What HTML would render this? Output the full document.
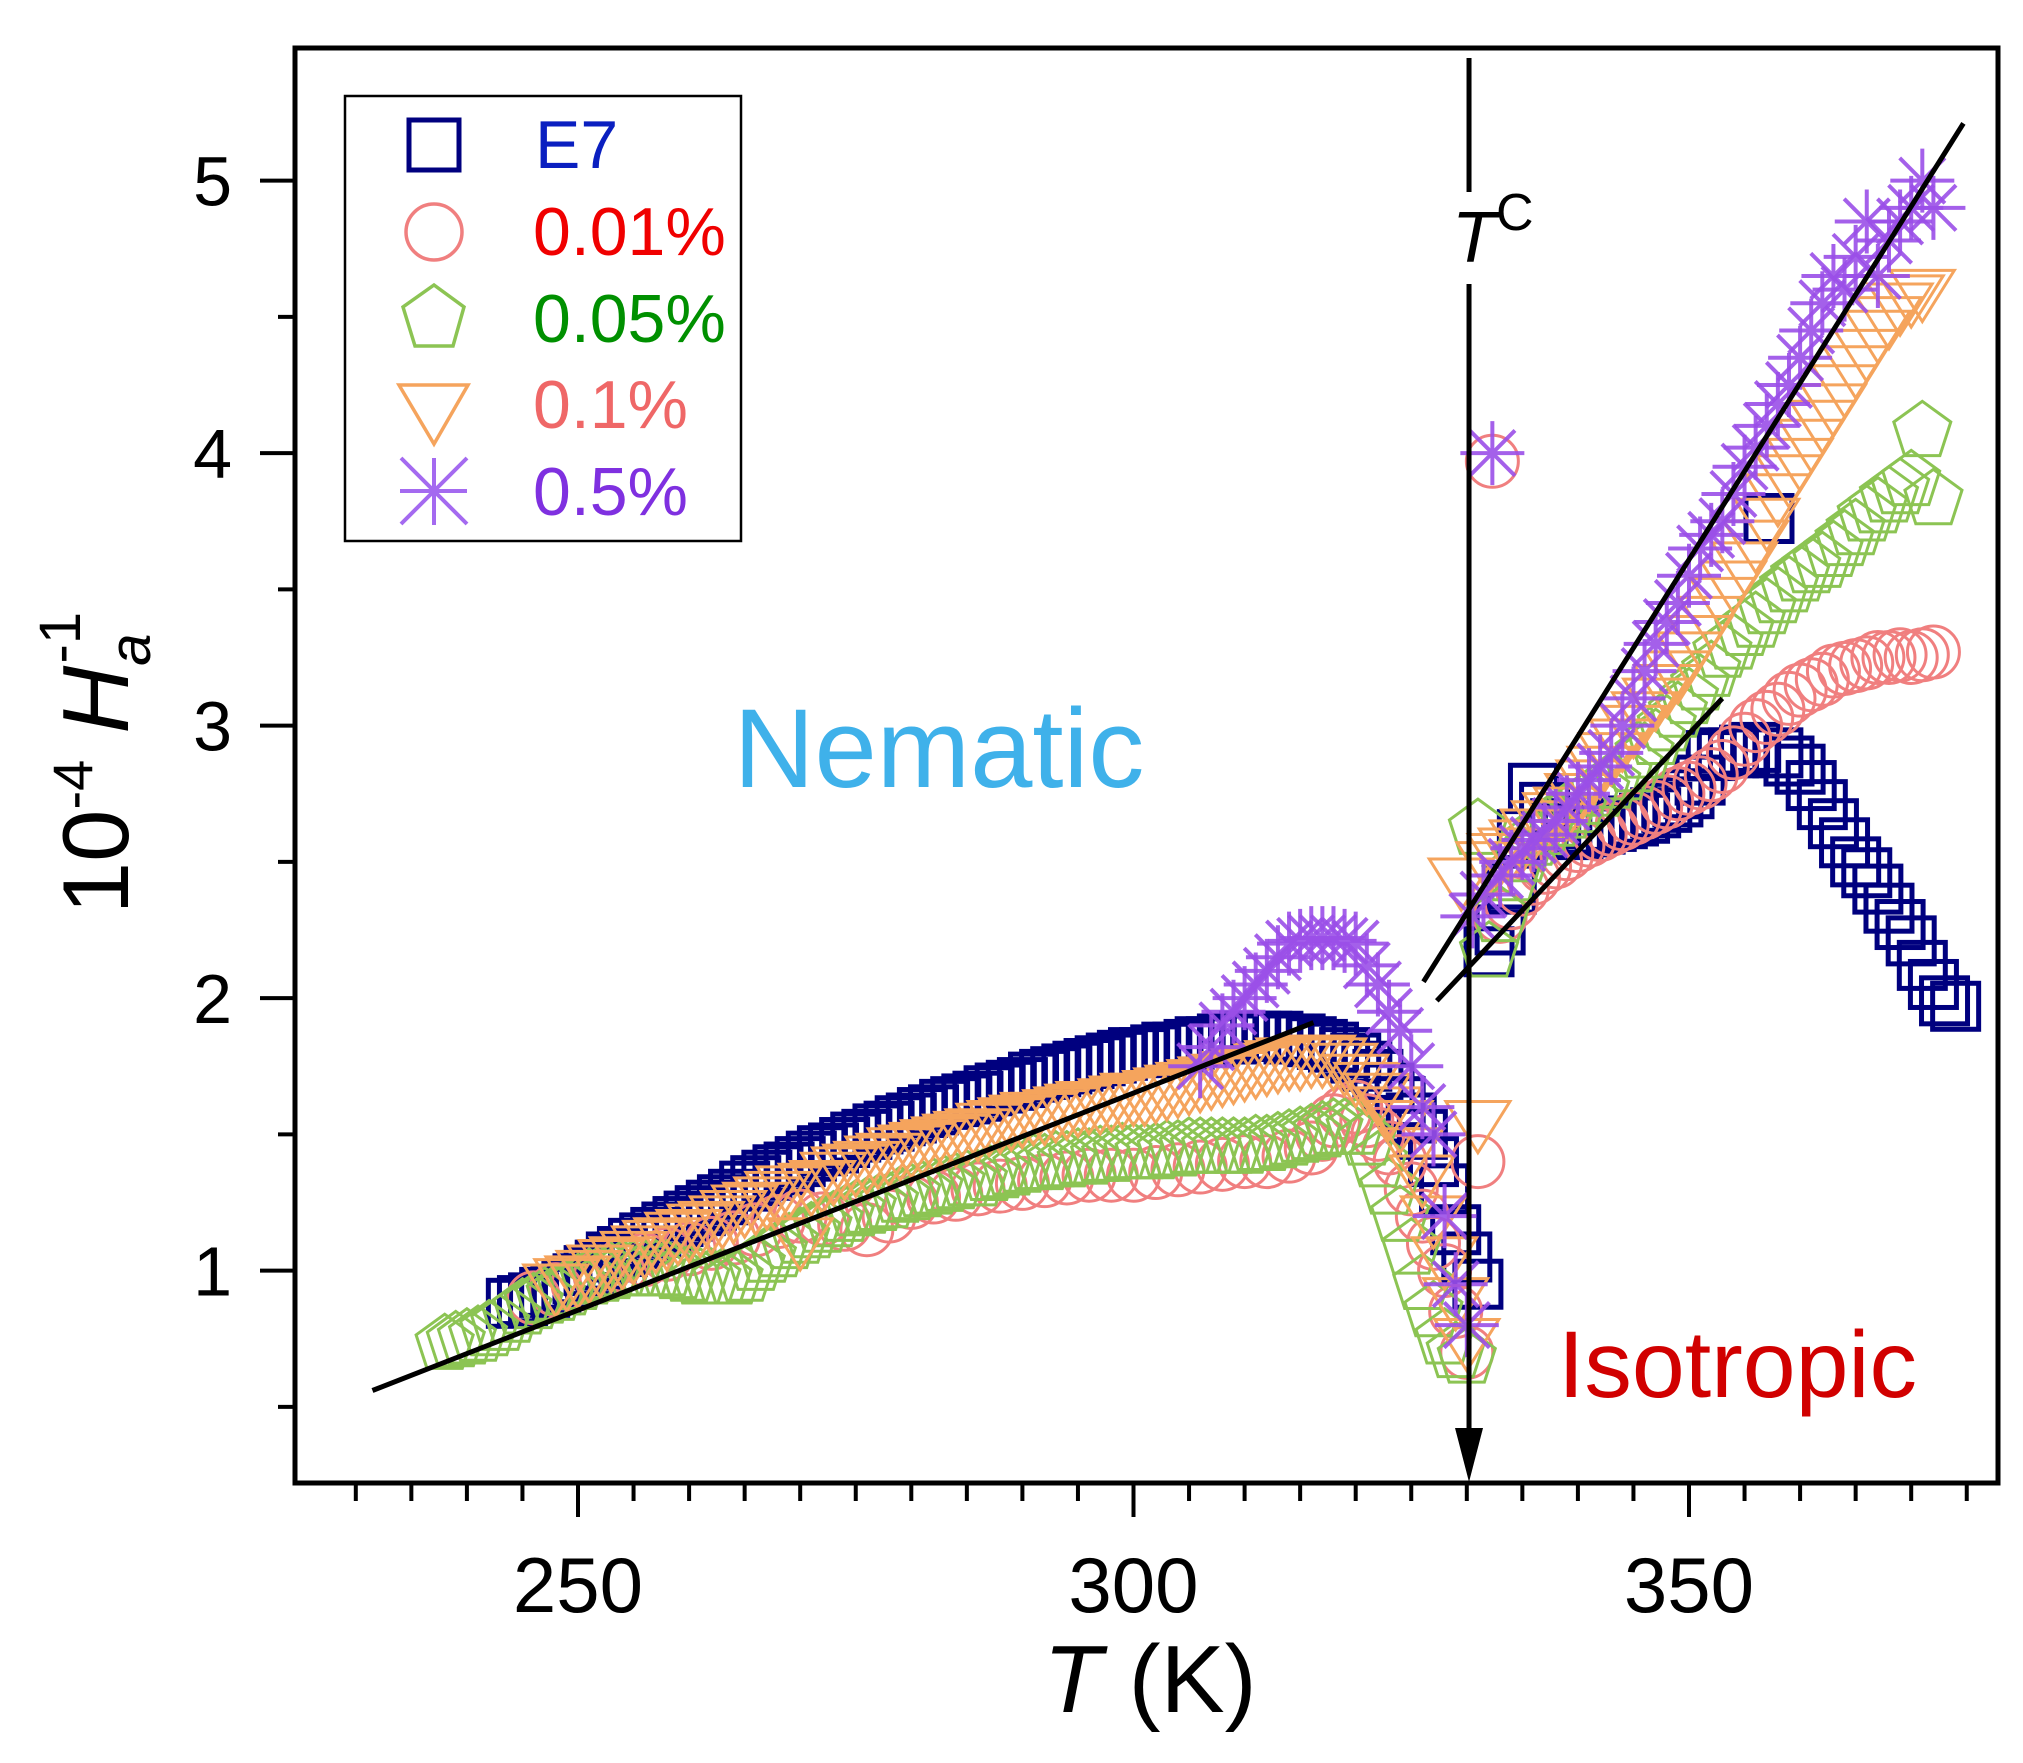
<!DOCTYPE html>
<html><head><meta charset="utf-8"><style>
html,body{margin:0;padding:0;background:#fff;}
svg{display:block;font-family:"Liberation Sans",sans-serif;}
</style></head><body>
<svg id="chart" width="2023" height="1763" viewBox="0 0 2023 1763">
<rect x="0" y="0" width="2023" height="1763" fill="#fff"/>
<g id="marks"></g>
<g id="axes"></g>
</svg>
<script>
// ---------- data ----------
const xTicks = [250, 300, 350];
const yTicks = [1, 2, 3, 4, 5];
const e7T = [244,245,246,247,248,249,250,251,252,253,254,255,256,257,258,259,260,261,262,263,264,265,266,267,268,269,270,271,272,273,274,275,276,277,278,279,280,281,282,283,284,285,286,287,288,289,290,291,292,293,294,295,296,297,298,299,300,301,302,303,304,305,306,307,308,309,310,311,312,313,314,315,316,317,318,319,320,321,322,323,324,325,326,327,328,329,330,331,
  332,333,334,335,336,337,338,339,340,341,342,343,344,345,346,347,348,349,350,351,352,353,354,355,356,357.2,358,359,360,361,362,363,364,365,366,367,368,369,370,371,372,373,374];
const e7V = [0.88,0.89,0.90,0.92,0.93,0.95,0.97,1.00,1.02,1.05,1.07,1.10,1.12,1.14,1.16,1.18,1.20,1.22,1.24,1.26,1.28,1.31,1.33,1.35,1.37,1.38,1.40,1.42,1.44,1.45,1.47,1.49,1.50,1.52,1.53,1.55,1.56,1.58,1.59,1.61,1.62,1.63,1.64,1.66,1.67,1.68,1.69,1.71,1.72,1.73,1.74,1.75,1.76,1.77,1.78,1.79,1.80,1.80,1.81,1.82,1.82,1.83,1.84,1.84,1.85,1.85,1.86,1.86,1.86,1.86,1.85,1.85,1.84,1.83,1.82,1.80,1.78,1.75,1.72,1.67,1.62,1.56,1.50,1.40,1.30,1.15,1.05,0.95,
  2.17,2.25,2.40,2.60,2.77,2.70,2.64,2.62,2.60,2.61,2.62,2.63,2.64,2.65,2.66,2.68,2.70,2.72,2.75,2.80,2.89,2.90,2.90,2.91,2.92,3.76,2.90,2.87,2.84,2.78,2.71,2.64,2.57,2.50,2.46,2.40,2.33,2.27,2.21,2.12,2.05,1.99,1.97];
const c1T = [246,248,250,252,254,256,258,260,262,264,266,268,270,272,274,276,278,280,282,284,286,288,290,292,294,296,298,300,302,304,306,308,310,312,314,316,317,318,319,320,321,322,323,324,325,326,327,328,329,330,331,332.3,
  333,334,335,336,337,338,339,340,341,342,343,344,345,346,347,348,349,350,351,352,353,354,355,356,357,358,359,360,361,362,363,364,365,366,367,368,369,370,371,372];
const c1V = [0.9,0.93,0.95,0.98,1.02,1.04,1.06,1.08,1.1,1.12,1.15,1.18,1.2,1.19,1.17,1.15,1.2,1.25,1.27,1.28,1.3,1.31,1.32,1.33,1.34,1.35,1.35,1.35,1.36,1.37,1.38,1.39,1.40,1.40,1.42,1.45,1.5,1.55,1.58,1.6,1.55,1.5,1.45,1.4,1.3,1.2,1.1,1.0,0.85,0.7,1.4,3.97,
  2.3,2.35,2.4,2.44,2.48,2.5,2.53,2.56,2.58,2.6,2.62,2.64,2.66,2.68,2.7,2.72,2.75,2.77,2.79,2.82,2.85,2.9,2.95,3.0,3.03,3.06,3.1,3.13,3.15,3.17,3.2,3.21,3.22,3.23,3.25,3.25,3.26,3.25,3.26,3.27];
const c5T = [238,239,240,241,242,243,244,245,246,247,248,249,250,251,252,253,254,255,256,257,258,259,260,261,262,263,264,265,266,267,268,269,270,271,272,273,274,275,276,277,278,279,280,281,282,283,284,285,286,287,288,289,290,291,292,293,294,295,296,297,298,299,300,301,302,303,304,305,306,307,308,309,310,311,312,313,314,315,316,317,318,319,320,321,322,323,324,325,326,327,328,329,330,331,
  332,333,334,335,336,337,338,339,340,341,342,343,344,345,346,347,348,349,350,351,352,353,354,355,356,357,358,359,360,361,362,363,364,365,366,367,368,369,370,371,372];
const c5V = [0.73,0.74,0.75,0.76,0.78,0.80,0.83,0.86,0.88,0.90,0.91,0.93,0.95,0.97,0.98,0.99,1.0,1.0,1.0,1.0,1.0,0.99,0.98,0.97,0.97,0.97,0.97,0.98,1.02,1.05,1.07,1.10,1.12,1.14,1.16,1.18,1.2,1.22,1.23,1.24,1.25,1.27,1.28,1.29,1.3,1.31,1.32,1.33,1.33,1.35,1.36,1.37,1.38,1.39,1.39,1.40,1.40,1.41,1.41,1.42,1.42,1.43,1.43,1.43,1.43,1.44,1.44,1.45,1.45,1.45,1.45,1.45,1.45,1.46,1.46,1.47,1.48,1.49,1.50,1.51,1.52,1.52,1.52,1.48,1.40,1.30,1.20,1.08,0.95,0.85,0.75,0.70,0.68,2.62,
  2.17,2.30,2.45,2.52,2.58,2.62,2.65,2.68,2.70,2.73,2.76,2.79,2.82,2.85,2.90,2.95,3.0,3.05,3.1,3.15,3.2,3.27,3.3,3.35,3.38,3.43,3.47,3.51,3.55,3.58,3.6,3.64,3.68,3.72,3.77,3.8,3.84,3.87,3.9,4.08,3.83];
const c10T = [248,249,250,251,252,253,254,255,256,257,258,259,260,261,262,263,264,265,266,267,268,269,270,271,272,273,274,275,276,277,278,279,280,281,282,283,284,285,286,287,288,289,290,291,292,293,294,295,296,297,298,299,300,301,302,303,304,305,306,307,308,309,310,311,312,313,314,315,316,317,318,319,320,321,322,323,324,325,326,327,328,329,330,331,
  329.5,332,333,334,335,336,337,338,339,340,341,342,343,344,345,346,347,348,349,350,351,352,353,354,355,356,357,358,359,360,361,362,363,364,365,366,367,368,369,370,371];
const c10V = [0.95,0.97,0.98,1.0,1.02,1.04,1.05,1.07,1.09,1.11,1.12,1.14,1.15,1.17,1.18,1.2,1.22,1.24,1.25,1.27,1.29,1.31,1.12,1.32,1.33,1.36,1.38,1.39,1.40,1.42,1.43,1.45,1.46,1.47,1.48,1.49,1.50,1.51,1.52,1.54,1.55,1.56,1.57,1.58,1.58,1.59,1.60,1.61,1.62,1.62,1.63,1.64,1.65,1.65,1.66,1.67,1.68,1.69,1.70,1.71,1.72,1.73,1.74,1.75,1.76,1.77,1.78,1.78,1.79,1.79,1.78,1.76,1.72,1.69,1.65,1.60,1.55,1.45,1.35,1.20,1.05,0.90,0.75,1.55,
  2.44,2.50,2.53,2.55,2.58,2.62,2.65,2.68,2.70,2.75,2.80,2.85,2.90,2.95,3.0,3.05,3.1,3.15,3.2,3.27,3.33,3.4,3.47,3.53,3.6,3.68,3.76,3.85,3.92,3.98,4.05,4.12,4.18,4.25,4.32,4.38,4.45,4.5,4.55,4.58,4.6];
const c50T = [306,307,308,309,310,311,312,313,314,315,316,317,318,319,320,321,322,323,324,325,326,327,328,329,330,332.3,
  330.5,331.5,333,334,335,336,337,338,339,340,341,342,343,344,345,346,347,348,349,350,351,352,353,354,355,356,357,358,359,360,361,362,363,364,365,366,367,368,369,370,371,372];
const c50V = [1.75,1.82,1.9,1.95,2.0,2.05,2.1,2.15,2.2,2.21,2.22,2.22,2.22,2.21,2.2,2.12,2.05,1.95,1.88,1.75,1.6,1.5,1.2,0.95,0.8,4.0,
  2.3,2.38,2.45,2.5,2.55,2.58,2.6,2.65,2.7,2.75,2.8,2.85,2.9,3.0,3.1,3.2,3.3,3.38,3.45,3.55,3.65,3.7,3.75,3.85,3.95,4.02,4.1,4.18,4.25,4.35,4.45,4.55,4.65,4.6,4.72,4.85,4.65,4.78,4.85,4.9,5.0,4.9];
const fitT1 = [231.5, 316.2], fitV1 = [0.56, 1.91];
const fitT2 = [326.1, 374.7], fitV2 = [2.06, 5.21];
const fitT3 = [327.3, 353.0], fitV3 = [1.99, 3.10];
const tc = 330.2;

// ---------- axes functions ----------
const X0 = 295, X1 = 1998, Y0 = 48, Y1 = 1483;
const xs = t => 578 + (t - 250) * 11.11;
const ys = v => 180.6 + (5 - v) * 272.5;
const NS = 'http://www.w3.org/2000/svg';
const marks = document.getElementById('marks');
const axes = document.getElementById('axes');
function mk(tag, attrs, parent) {
  const e = document.createElementNS(NS, tag);
  for (const k in attrs) e.setAttribute(k, attrs[k]);
  parent.appendChild(e);
  return e;
}
const defs = mk('defs', {}, document.getElementById('chart'));
const cp = mk('clipPath', {id: 'pc'}, defs);
mk('rect', {x: X0, y: Y0, width: X1 - X0, height: Y1 - Y0}, cp);
marks.setAttribute('clip-path', 'url(#pc)');

function marker(type, cx, cy, parent) {
  let e;
  if (type === 'square') {
    e = mk('rect', {x: cx - 23, y: cy - 23, width: 46, height: 46, fill: 'none', stroke: '#00007f', 'stroke-width': 5}, parent);
  } else if (type === 'circle') {
    e = mk('circle', {cx: cx, cy: cy, r: 26, fill: 'none', stroke: '#f07f7f', 'stroke-width': 3}, parent);
  } else if (type === 'pentagon') {
    const r = 30; let p = [];
    for (let i = 0; i < 5; i++) { const a = -Math.PI/2 + i*2*Math.PI/5; p.push((cx + r*Math.cos(a)).toFixed(1) + ',' + (cy + r*Math.sin(a)).toFixed(1)); }
    e = mk('polygon', {points: p.join(' '), fill: 'none', stroke: '#8cc453', 'stroke-width': 3}, parent);
  } else if (type === 'triangle') {
    const r = 32;
    e = mk('polygon', {points: `${cx-r},${cy-r*0.6} ${cx+r},${cy-r*0.6} ${cx},${cy+r*1.0}`, fill: 'none', stroke: '#f5a45d', 'stroke-width': 3}, parent);
  } else {
    const r = 32; e = mk('g', {stroke: '#9b4fe8', 'stroke-width': 4, opacity: 0.9}, parent);
    for (let i = 0; i < 4; i++) { const a = i*Math.PI/4; mk('line', {x1: cx - r*Math.cos(a), y1: cy - r*Math.sin(a), x2: cx + r*Math.cos(a), y2: cy + r*Math.sin(a)}, e); }
  }
  return e;
}
function series(name, type, T, V) {
  const g = mk('g', {}, marks);
  
  
  for (let i = 0; i < T.length; i++) {
    const m = marker(type, xs(T[i]), ys(V[i]), g);
    
    
  }
}
series('series-e7', 'square', e7T, e7V);
series('series-0-01', 'circle', c1T, c1V);
series('series-0-05', 'pentagon', c5T, c5V);
series('series-0-1', 'triangle', c10T, c10V);
series('series-0-5', 'star', c50T, c50V);

function fit(name, T, V) {
  const l = mk('line', {x1: xs(T[0]), y1: ys(V[0]), x2: xs(T[1]), y2: ys(V[1]), stroke: '#000', 'stroke-width': 5}, marks);
  
  
}
fit('fit-line-nematic', fitT1, fitV1);
fit('fit-line-isotropic-upper', fitT2, fitV2);
fit('fit-line-isotropic-lower', fitT3, fitV3);

const tx = xs(tc);
const a1 = mk('line', {x1: tx, y1: 58, x2: tx, y2: 192, stroke: '#000', 'stroke-width': 5}, axes);


const a2 = mk('line', {x1: tx, y1: 284, x2: tx, y2: 1440, stroke: '#000', 'stroke-width': 5}, axes);


const ah = mk('polygon', {points: `${tx-14},1428 ${tx+14},1428 ${tx},1482`, fill: '#000'}, axes);



const fr = mk('rect', {x: X0, y: Y0, width: X1 - X0, height: Y1 - Y0, fill: 'none', stroke: '#000', 'stroke-width': 5}, axes);



for (let t = 230; t <= 375; t += 5) {
  const major = t % 50 === 0;
  const l = mk('line', {x1: xs(t), y1: Y1, x2: xs(t), y2: Y1 + (major ? 34 : 18), stroke: '#000', 'stroke-width': 4}, axes);
  
  
}
xTicks.forEach(t => {
  const e = mk('text', {x: xs(t), y: 1612, 'text-anchor': 'middle', 'font-size': 78}, axes);
  e.textContent = t;
  
  
});
for (let v = 0.5; v <= 5.0001; v += 0.5) {
  const major = Math.abs(v - Math.round(v)) < 0.01;
  const l = mk('line', {x1: X0 - (major ? 35 : 17), y1: ys(v), x2: X0, y2: ys(v), stroke: '#000', 'stroke-width': 4}, axes);
  
  
}
yTicks.forEach(v => {
  const e = mk('text', {x: 232, y: ys(v) + 25, 'text-anchor': 'end', 'font-size': 70}, axes);
  e.textContent = v;
  
  
});
</script>
<svg style="position:absolute;left:0;top:0" width="2023" height="1763">
  <text x="1150" y="1712" text-anchor="middle" font-family="Liberation Sans, sans-serif" font-size="96"><tspan font-style="italic">T</tspan>  (K)</text>
  <text transform="translate(128,763) rotate(-90)" text-anchor="middle" font-family="Liberation Sans, sans-serif" font-size="94">10<tspan dy="-36" font-size="56">-4</tspan><tspan dy="36"> </tspan><tspan font-style="italic">H</tspan><tspan dy="22" font-size="58" font-style="italic">a</tspan><tspan dy="-70" dx="-30" font-size="58">-1</tspan></text>
  <text x="1452" y="262" font-family="Liberation Sans, sans-serif" font-size="72" font-style="italic">T<tspan dy="-32" font-size="52" font-style="normal">C</tspan></text>
  <text x="939" y="787" text-anchor="middle" font-family="Liberation Sans, sans-serif" font-size="112" fill="#3fb1ea">Nematic</text>
  <text x="1558" y="1397" font-family="Liberation Sans, sans-serif" font-size="95" fill="#d10000">Isotropic</text>
  <g>
    <rect x="345" y="96" width="396" height="445" fill="#fff" stroke="#000" stroke-width="2.5"/>
    <g>
      <rect x="409" y="120" width="50" height="50" fill="none" stroke="#00007f" stroke-width="5"/>
      <text x="535" y="168" font-family="Liberation Sans, sans-serif" font-size="68" fill="#0a1fc0">E7</text>
    </g>
    <g>
      <circle cx="434" cy="232" r="28" fill="none" stroke="#f07f7f" stroke-width="3.5"/>
      <text x="533" y="255" font-family="Liberation Sans, sans-serif" font-size="68" fill="#f00000">0.01%</text>
    </g>
    <g>
      <polygon points="434,285 464,307 453,346 415,346 403,307" fill="none" stroke="#8cc453" stroke-width="3.5"/>
      <text x="533" y="342" font-family="Liberation Sans, sans-serif" font-size="68" fill="#009000">0.05%</text>
    </g>
    <g>
      <polygon points="399,385 468,385 434,444" fill="none" stroke="#f5a45d" stroke-width="3.5"/>
      <text x="533" y="428" font-family="Liberation Sans, sans-serif" font-size="68" fill="#ef6767">0.1%</text>
    </g>
    <g stroke="#a46af0" stroke-width="4">
      <line x1="400" y1="491" x2="467" y2="491"/><line x1="434" y1="458" x2="434" y2="525"/>
      <line x1="401" y1="458" x2="467" y2="524"/><line x1="467" y1="458" x2="401" y2="524"/>
      <text x="533" y="515" stroke="none" font-family="Liberation Sans, sans-serif" font-size="68" fill="#7f30e0">0.5%</text>
    </g>
  </g>
</svg>
</body></html>
